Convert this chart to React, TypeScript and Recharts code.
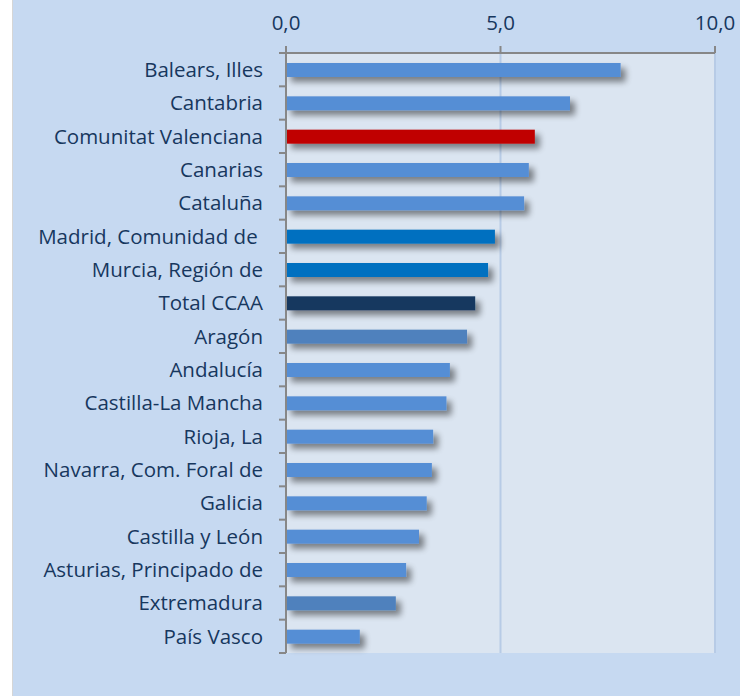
import { BarChart, Bar, XAxis, YAxis, CartesianGrid, Cell } from "recharts"

// categories top to bottom, as in the reference
const CATEGORIES = [
  "Balears, Illes",
  "Cantabria",
  "Comunitat Valenciana",
  "Canarias",
  "Cataluña",
  "Madrid, Comunidad de ",
  "Murcia, Región de",
  "Total CCAA",
  "Aragón",
  "Andalucía",
  "Castilla-La Mancha",
  "Rioja, La",
  "Navarra, Com. Foral de",
  "Galicia",
  "Castilla y León",
  "Asturias, Principado de",
  "Extremadura",
  "País Vasco",
]

const VALUES = [7.8, 6.62, 5.8, 5.66, 5.55, 4.87, 4.71, 4.41, 4.22, 3.82, 3.74, 3.43, 3.4, 3.28, 3.1, 2.8, 2.56, 1.72]

const BAR_COLORS = [
  "#558ed5", "#558ed5", "#c00000", "#558ed5", "#558ed5", "#0070c0",
  "#0070c0", "#17375e", "#4f81bd", "#558ed5", "#558ed5", "#558ed5",
  "#558ed5", "#558ed5", "#558ed5", "#558ed5", "#4f81bd", "#558ed5",
]

const X_TICKS = [0, 5, 10]

const DATA = CATEGORIES.map((name, i) => ({ name, value: VALUES[i], color: BAR_COLORS[i] }))

const W = 727
const H = 696
const PLOT_LEFT = 273
const PLOT_TOP = 53
const PLOT_BOTTOM = 43
const PLOT_H = H - PLOT_TOP - PLOT_BOTTOM
const BAND = PLOT_H / CATEGORIES.length
const INK = "#17375e"
const AXIS = "#878787"
const FONT = "'Open Sans', sans-serif"

function fmt(v: number) {
  return v.toFixed(1).replace(".", ",")
}

function YTick(props: any) {
  const { y, payload, index } = props
  const top = y - BAND / 2
  return (
    <g>
      <line x1={PLOT_LEFT - 7} x2={PLOT_LEFT} y1={top} y2={top} stroke={AXIS} strokeWidth={2} />
      {index === CATEGORIES.length - 1 ? (
        <line x1={PLOT_LEFT - 7} x2={PLOT_LEFT} y1={top + BAND} y2={top + BAND} stroke={AXIS} strokeWidth={2} />
      ) : null}
      <text
        x={PLOT_LEFT - 23}
        y={y}
        dy="0.36em"
        textAnchor="end"
        fill={INK}
        fontSize={20.5}
        fontFamily={FONT}
        style={{ whiteSpace: "pre" }}
      >
        {payload.value}
      </text>
    </g>
  )
}

function ShadowBar(props: any) {
  const { x, y, width, height, fill } = props
  if (!width || width <= 0) return null
  return <rect x={x} y={y} width={width} height={height} fill={fill} filter="url(#barShadow)" />
}

export default function App() {
  return (
    <div style={{ position: "absolute", left: 0, top: 0, width: 740, height: 696, background: "#fff", overflow: "hidden" }}>
      <div
        style={{
          position: "absolute",
          left: 12,
          top: 0,
          width: W,
          height: H,
          background: "#c6d9f1",
          borderLeft: "1px solid #d6d6d6",
        }}
      >
        <BarChart
          width={W}
          height={H}
          data={DATA}
          layout="vertical"
          barCategoryGap={0}
          margin={{ top: PLOT_TOP - 30, right: 25, bottom: PLOT_BOTTOM, left: PLOT_LEFT - 200 }}
        >
          <defs>
            <filter id="barShadow" x="-5%" y="-50%" width="125%" height="250%">
              <feGaussianBlur in="SourceAlpha" stdDeviation="3" />
              <feOffset dx="5" dy="5" result="off" />
              <feComponentTransfer>
                <feFuncA type="linear" slope="0.45" />
              </feComponentTransfer>
              <feMerge>
                <feMergeNode />
                <feMergeNode in="SourceGraphic" />
              </feMerge>
            </filter>
          </defs>
          <CartesianGrid horizontal={false} fill="#dbe5f1" stroke="#b7cbe6" strokeWidth={2} />
          <XAxis
            type="number"
            orientation="top"
            domain={[0, 10]}
            ticks={X_TICKS}
            height={30}
            tickFormatter={fmt}
            axisLine={{ stroke: AXIS, strokeWidth: 2 }}
            tickLine={{ stroke: AXIS, strokeWidth: 2 }}
            tickSize={7}
            tickMargin={16}
            tick={{ fill: INK, fontSize: 20.5, fontFamily: FONT }}
          />
          <YAxis
            type="category"
            dataKey="name"
            width={200}
            axisLine={{ stroke: AXIS, strokeWidth: 2 }}
            tickLine={false}
            interval={0}
            tick={<YTick />}
          />
          <Bar dataKey="value" barSize={14} isAnimationActive={false} shape={<ShadowBar />}>
            {DATA.map((d) => (
              <Cell key={d.name} fill={d.color} />
            ))}
          </Bar>
        </BarChart>
      </div>
    </div>
  )
}
